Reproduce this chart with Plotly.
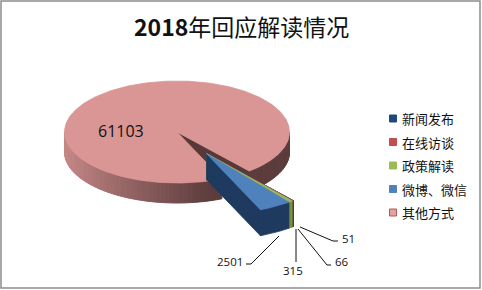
import numpy as np
import plotly.graph_objects as go

# ---------------- data ----------------
categories = ["新闻发布", "在线访谈", "政策解读", "微博、微信", "其他方式"]
values = [51, 66, 315, 2501, 61103]
value_labels = ["51", "66", "315", "2501", "61103"]
title_text = "<b>2018</b>年回应解读情况"

# ---------------- styles ----------------
top_colors = ["#1F497D", "#C0504D", "#9BBB59", "#4F81BD", "#D99694"]
side_colors = ["#17375E", "#632523", "#76923C", "#1F3A5F", "#5C3C3C"]
legend_colors = ["#1F497D", "#C0504D", "#9BBB59", "#4F81BD", "#E3A3A1"]
legend_lines = ["#1F497D", "#C0504D", "#9BBB59", "#4F81BD", "#B05A58"]
pulled = [True, True, True, True, False]

W, H = 482, 290
CX, CY = 177, 132          # pie centre (px)
RX, RY = 112.5, 51         # ellipse radii (px)
DEPTH = 20                 # thickness of pie
START = -50.0              # start angle (deg, math convention), clockwise
EXPLODE = 0.5
PULL_SCALE = 1.2
PULL_DEPTH = 26

total = float(sum(values))
spans = [360.0 * v / total for v in values]
bounds = []
a = START
for s in spans:
    bounds.append((a, a - s))
    a -= s

fig = go.Figure()


def arc(cx, cy, a1, a2, sc=1.0, dy=0.0):
    n = max(2, int(abs(a1 - a2) / 1.0) + 2)
    angs = np.radians(np.linspace(a1, a2, n))
    xs = cx + sc * RX * np.cos(angs)
    ys = cy - sc * RY * np.sin(angs) + dy
    return list(xs), list(ys)


def poly(xs, ys, color, lw=0.8):
    fig.add_trace(go.Scatter(
        x=list(xs) + [xs[0]], y=list(ys) + [ys[0]], mode="lines",
        fill="toself", fillcolor=color, line=dict(color=color, width=lw),
        hoverinfo="skip", showlegend=False))


def side_shade(x):
    t = (x - (CX - RX)) / (1.3 * RX)
    t = min(max(t, 0.0), 1.0)
    light = np.array([198, 136, 135])
    dark = np.array([92, 60, 60])
    c = light + (dark - light) * t ** 0.9
    return "rgb(%d,%d,%d)" % tuple(int(round(v)) for v in c)


# ---------- main (non-pulled) slice ----------
pa1, pa2 = bounds[4]
# visible front side ranges
front_ranges = [(pa1, -180.0), (-360.0, pa2)]
for hi, lo in front_ranges:
    if hi <= lo:
        continue
    steps = np.arange(hi, lo, -2.0).tolist() + [lo]
    for b1, b2 in zip(steps[:-1], steps[1:]):
        tx, ty = arc(CX, CY, b1, b2)
        bx, by = arc(CX, CY, b2, b1, dy=DEPTH)
        poly(tx + bx, ty + by, side_shade(np.mean(tx)), lw=1.0)

# radial cut face at pa2 (visible)
ox, oy = CX + RX * np.cos(np.radians(pa2)), CY - RY * np.sin(np.radians(pa2))
poly([CX, ox, ox, CX], [CY, oy, oy + DEPTH, CY + DEPTH], "#58393A")

# top
tx, ty = arc(CX, CY, pa1, pa2)
poly([CX] + tx, [CY] + ty, top_colors[4])

# ---------- pulled slices ----------
mid = (bounds[0][0] + bounds[3][1]) / 2.0
AX = CX + EXPLODE * RX * np.cos(np.radians(mid))
AY = CY - EXPLODE * RY * np.sin(np.radians(mid))
for i in range(4):
    a1, a2 = bounds[i]
    px = AX + PULL_SCALE * RX * np.cos(np.radians(a2))
    py = AY - PULL_SCALE * RY * np.sin(np.radians(a2))
    poly([AX, px, px, AX], [AY, py, py + PULL_DEPTH, AY + PULL_DEPTH], side_colors[i])
    tx, ty = arc(AX, AY, a1, a2, sc=PULL_SCALE)
    bx, by = arc(AX, AY, a2, a1, sc=PULL_SCALE, dy=PULL_DEPTH)
    poly(tx + bx, ty + by, side_colors[i])
    poly([AX] + tx, [AY] + ty, top_colors[i])

# ---------- data labels & leader lines ----------
label_pos = {
    "51": (348.5, 238.5),
    "66": (341.5, 261.0),
    "315": (293.0, 270.0),
    "2501": (230.0, 261.0),
    "61103": (121.0, 131.0),
}
leaders = {
    "51": ([338, 333, 300], [241, 241, 227]),
    "66": ([331, 327, 298], [265, 265, 229]),
    "315": ([296, 296], [262, 229]),
    "2501": ([246, 251, 279], [264, 264, 236]),
}
for lab in value_labels:
    x, y = label_pos[lab]
    fig.add_annotation(x=x, y=y, text=lab, showarrow=False,
                       xanchor="center", yanchor="middle",
                       font=dict(family="Open Sans", size=16 if lab == "61103" else 11.5,
                                 color="#111111"))
    if lab in leaders:
        lx, ly = leaders[lab]
        fig.add_trace(go.Scatter(x=lx, y=ly, mode="lines",
                                 line=dict(color="#111111", width=1),
                                 hoverinfo="skip", showlegend=False))

# ---------- legend ----------
leg_y = [118.5, 142.0, 165.5, 189.0, 212.5]
fig.add_trace(go.Scatter(
    x=[393] * len(categories), y=leg_y, mode="markers",
    marker=dict(symbol="square", size=7, color=legend_colors,
                line=dict(color=legend_lines, width=1)),
    hoverinfo="skip", showlegend=False))
for cat, y in zip(categories, leg_y):
    fig.add_annotation(x=400, y=y, text=cat, showarrow=False,
                       xanchor="left", yanchor="middle",
                       font=dict(family="Noto Sans CJK SC", size=13, color="#111111"))

# ---------- title ----------
fig.add_annotation(x=241, y=26, text=title_text, showarrow=False,
                   xanchor="center", yanchor="middle",
                   font=dict(family="Noto Sans CJK SC", size=23, color="#111111"))

# ---------- chart border ----------
fig.add_shape(type="rect", x0=1, y0=1, x1=480, y1=288,
              line=dict(color="#8C8C8C", width=1.5), layer="above")

fig.update_layout(
    width=W, height=H, autosize=False,
    margin=dict(l=0, r=0, t=0, b=0, pad=0),
    paper_bgcolor="white", plot_bgcolor="white",
    xaxis=dict(range=[0, W], visible=False, fixedrange=True),
    yaxis=dict(range=[H, 0], visible=False, fixedrange=True),
    hovermode=False, showlegend=False,
)

fig.write_html("out.html", config={"displayModeBar": False})
